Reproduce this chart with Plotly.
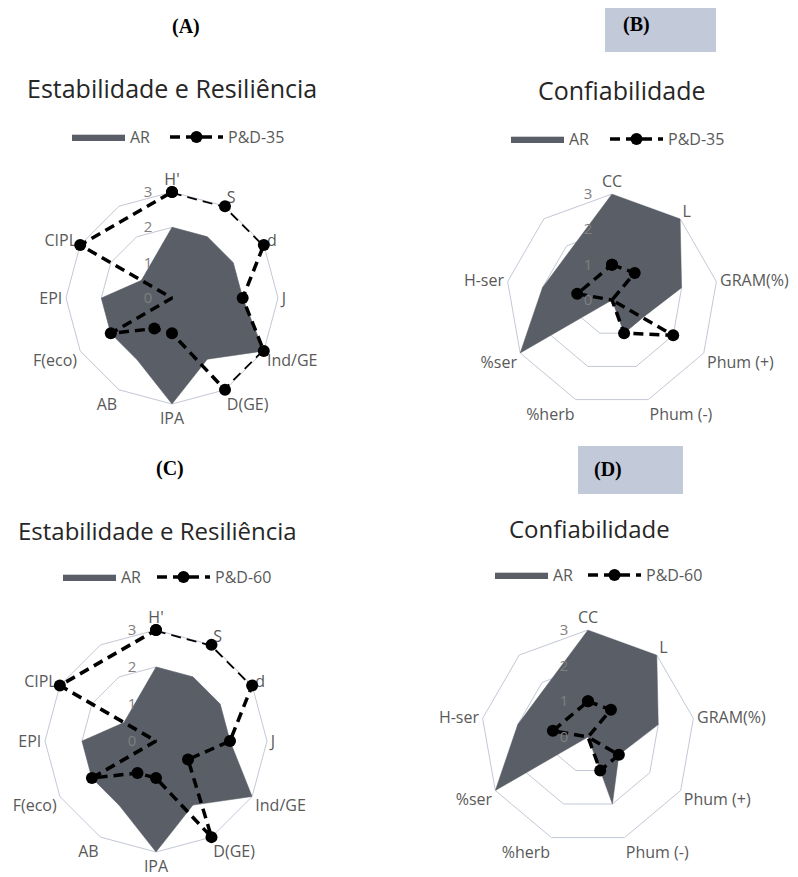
import plotly.graph_objects as go

# ---------------- data ----------------
cats_er = ["H'", "S", "d", "J", "Ind/GE", "D(GE)", "IPA", "AB", "F(eco)", "EPI", "CIPL"]
ar_er = [2, 2, 2, 2, 3, 2, 3, 2, 2, 2, 1]
pd35_er = [3, 3, 3, 2, 3, 3, 1, 1, 2, 0, 3]
pd60_er = [3, 3, 3, 2, 1, 3, 1, 1, 2, 0, 3]

cats_conf = ["CC", "L", "GRAM(%)", "Phum (+)", "Phum (-)", "%herb", "%ser", "H-ser"]
ar_conf_b = [3, 3, 2, 1, 1, 0, 3, 2]
pd35_conf = [1, 1, 0, 2, 1, 0, 0, 1]
ar_conf_d = [3, 3, 2, 1, 2, 0, 3, 2]
pd60_conf = [1, 1, 0, 1, 1, 0, 0, 1]

radial_ticks = [0, 1, 2, 3]
panel_labels = ["(A)", "(B)", "(C)", "(D)"]
titles = ["Estabilidade e Resiliência", "Confiabilidade", "Estabilidade e Resiliência", "Confiabilidade"]
series_names = [("AR", "P&D-35"), ("AR", "P&D-35"), ("AR", "P&D-60"), ("AR", "P&D-60")]

# ---------------- style ----------------
OFF = 8                      # default page body margin
W, H = 798 - OFF, 877 - OFF  # figure size so the figure ends at the window edge
FILL = "#5a5e66"
GRID = "#c3c8d5"
LBL = "#595959"
FONT = "Open Sans"


def fx(x):
    return (x - OFF) / W


def fy(y):
    return 1 - (y - OFF) / H


panels = [
    dict(cats=cats_er, ar=ar_er, pd=pd35_er, cx=172, cy=298, R=106),
    dict(cats=cats_conf, ar=ar_conf_b, pd=pd35_conf, cx=612, cy=300, R=106),
    dict(cats=cats_er, ar=ar_er, pd=pd60_er, cx=156, cy=741, R=111),
    dict(cats=cats_conf, ar=ar_conf_d, pd=pd60_conf, cx=588, cy=737, R=107),
]
# (x of AR item, x of P&D item, y centre)
legend_pos = [(67, 165, 137), (506, 605, 139), (58, 152, 577), (490, 583, 575)]
title_pos = [(172, 88), (621, 90), (157, 530), (589, 528)]
title_size = [25, 25, 24, 24]
label_pos = [(186, 27), (636, 25), (170, 468), (608, 470)]
boxes = [None, (605, 2, 716, 52), None, (578, 446, 683, 494)]

fig = go.Figure()
layout = dict(width=W, height=H, margin=dict(l=0, r=0, t=0, b=0),
              paper_bgcolor="white", plot_bgcolor="white",
              font=dict(family=FONT, color=LBL), annotations=[], shapes=[])

for i, p in enumerate(panels):
    pk = "polar" if i == 0 else f"polar{i+1}"
    lk1 = "legend" if i == 0 else f"legend{2*i+1}"
    lk2 = f"legend{2*i+2}"
    allcats = p["cats"] + [" "]
    # invisible trace to register every category (incl. the blank one)
    fig.add_trace(go.Scatterpolar(r=[0] * len(allcats), theta=allcats, mode="lines",
                                  line=dict(width=0, color="rgba(0,0,0,0)"),
                                  showlegend=False, hoverinfo="skip", subplot=pk))
    th = p["cats"] + [p["cats"][0]]
    fig.add_trace(go.Scatterpolar(r=p["ar"] + [p["ar"][0]], theta=th, mode="lines",
                                  fill="toself", fillcolor=FILL,
                                  line=dict(color=FILL, width=0.5),
                                  name=series_names[i][0], subplot=pk, legend=lk1))
    fig.add_trace(go.Scatterpolar(r=p["pd"] + [p["pd"][0]], theta=th, mode="lines+markers",
                                  line=dict(color="black", width=3.5, dash="10px,6px"),
                                  marker=dict(color="black", size=12),
                                  name=series_names[i][1], subplot=pk, legend=lk2))
    cx, cy, R = p["cx"], p["cy"], p["R"]
    layout[pk] = dict(
        domain=dict(x=[fx(cx - R), fx(cx + R)], y=[fy(cy + R), fy(cy - R)]),
        gridshape="linear", bgcolor="rgba(0,0,0,0)",
        angularaxis=dict(type="category", categoryorder="array", categoryarray=allcats,
                         rotation=90, direction="clockwise", showgrid=False,
                         showline=True, linecolor=GRID, linewidth=1, ticks="",
                         tickfont=dict(size=16, color=LBL, family=FONT), layer="below traces"),
        radialaxis=dict(range=[0, 3], tickvals=radial_ticks, angle=90, tickangle=90,
                        side="counterclockwise",
                        showline=False, ticks="outside", ticklen=14, tickcolor="rgba(0,0,0,0)",
                        gridcolor=GRID, gridwidth=1,
                        tickfont=dict(size=15, color="#7f7f7f", family=FONT)),
    )
    x1_, x2_, ly = legend_pos[i]
    for lk, lx in ((lk1, x1_), (lk2, x2_)):
        layout[lk] = dict(orientation="h", x=fx(lx), y=fy(ly), xanchor="left", yanchor="middle",
                          font=dict(size=16, color=LBL, family=FONT), itemwidth=53,
                          bgcolor="rgba(0,0,0,0)")
    tx, ty = title_pos[i]
    layout["annotations"].append(dict(text=titles[i], x=fx(tx), y=fy(ty), xref="paper", yref="paper",
                                      showarrow=False, xanchor="center", yanchor="middle",
                                      font=dict(size=title_size[i], color="#262626", family=FONT)))
    if boxes[i]:
        x0, y0, x1, y1 = boxes[i]
        layout["shapes"].append(dict(type="rect", xref="paper", yref="paper",
                                     x0=fx(x0), x1=fx(x1), y0=fy(y1), y1=fy(y0),
                                     fillcolor="#c2c9d9", line=dict(width=0), layer="below"))
    ax_, ay_ = label_pos[i]
    layout["annotations"].append(dict(text="<b>" + panel_labels[i] + "</b>", x=fx(ax_), y=fy(ay_),
                                      xref="paper", yref="paper", showarrow=False,
                                      xanchor="center", yanchor="middle",
                                      font=dict(size=20, color="black", family="Liberation Serif")))

fig.update_layout(**layout)
fig.write_html("out.html")
